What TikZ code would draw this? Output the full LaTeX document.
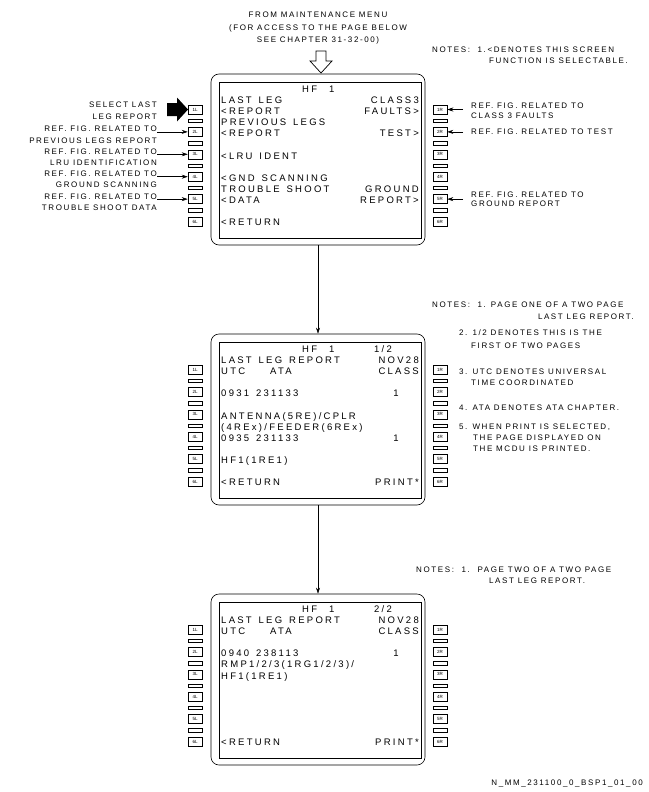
\documentclass[tikz,border=0pt]{standalone}
\usepackage{fontspec}
\setmainfont{Liberation Sans}
\newfontfamily\mcdufont[LetterSpace=24, WordSpace=1.4]{Liberation Sans}
\newfontfamily\notefont[LetterSpace=20]{Liberation Sans}
\usetikzlibrary{arrows.meta, positioning}
\tikzstyle{screen} = [draw, rounded corners=8pt, minimum width=214pt, minimum height=171pt, line width=0.6pt]
\tikzstyle{panel} = [draw, minimum width=202pt, minimum height=156pt, line width=0.5pt]
\tikzstyle{softkey} = [draw, minimum width=14pt, minimum height=9pt, inner sep=0pt, line width=0.5pt, font=\fontsize{4.5}{5}\selectfont]
\tikzstyle{keybar} = [draw, minimum width=14pt, minimum height=3.5pt, inner sep=0pt, line width=0.5pt]
\tikzstyle{lcd} = [inner sep=0pt, font=\mcdufont\fontsize{9.5}{11}\selectfont]
\tikzstyle{lft} = [lcd, anchor=base west]
\tikzstyle{rgt} = [lcd, anchor=base east]
\tikzstyle{midtext} = [lcd, anchor=base]
\tikzstyle{remark} = [inner sep=0pt, anchor=base west, font=\notefont\fontsize{8}{10}\selectfont]
\tikzstyle{remarkl} = [remark, anchor=base east]
\tikzstyle{arrow} = [->, >={Stealth[length=6pt,width=4pt]}, line width=0.5pt]

\begin{document}
\begin{tikzpicture}[x=1pt, y=-1pt]

\path [fill=white, use as bounding box] (0,0) rectangle (648,792);

% frames and keys of the three pages
\foreach \s in {1,2,3} {
  \begin{scope}[shift={(0,{260*(\s-1)})}]
    \node (s\s) [screen] at (318,159.5) {};
    \node (p\s) [panel] at (320,160) {};
    \foreach \n in {1,...,6} {
      \node (s\s L\n) [softkey] at (195,{109.5+22.4*(\n-1)}) {\n L};
      \node (s\s R\n) [softkey] at (440,{109.5+22.4*(\n-1)}) {\n R};
    }
    \foreach \n in {1,...,5} {
      \node (s\s bl\n) [keybar] at (195,{120.7+22.4*(\n-1)}) {};
      \node (s\s br\n) [keybar] at (440,{120.7+22.4*(\n-1)}) {};
    }
  \end{scope}
}

\node (menu) [align=center, inner sep=0pt, anchor=north, font=\notefont\fontsize{8}{12.5}\selectfont] at (318,12.1) {FROM MAINTENANCE MENU\\(FOR ACCESS TO THE PAGE BELOW\\SEE CHAPTER 31-32-00)};
\draw [line width=0.7pt] (316,51) -- (326,51) -- (326,61) -- (332,61) -- (321,73) -- (310,61) -- (316,61) -- cycle;

% page 1
\node (hf1) [lft] at (302,92.4) {HF\hspace{12pt}1};
\node (lastleg1) [lft] at (221,103.5) {LAST LEG};
\node (class1) [rgt] at (419,103.5) {CLASS3};
\node (report1) [lft] at (221,114.6) {<REPORT};
\node (faults1) [rgt] at (419,114.6) {FAULTS>};
\node (prevlegs1) [lft] at (221,125.7) {PREVIOUS LEGS};
\node (report2) [lft] at (221,136.8) {<REPORT};
\node (test1) [rgt] at (419,136.8) {TEST>};
\node (lru1) [lft] at (221,159.0) {<LRU IDENT};
\node (gnd1) [lft] at (221,181.2) {<GND SCANNING};
\node (trouble1) [lft] at (221,192.3) {TROUBLE SHOOT};
\node (ground1) [rgt] at (419,192.3) {GROUND};
\node (data1) [lft] at (221,203.4) {<DATA};
\node (gndrep1) [rgt] at (419,203.4) {REPORT>};
\node (return1) [lft] at (221,225.6) {<RETURN};

% page 2
\begin{scope}[shift={(0,260)}]
\node (hf2) [lft] at (302,92.4) {HF\hspace{12pt}1};
\node (pg2) [midtext] at (383,92.4) {1/2};
\node (title2) [lft] at (221,103.5) {LAST LEG REPORT};
\node (date2) [rgt] at (419,103.5) {NOV28};
\node (utc2) [lft] at (221,114.6) {UTC};
\node (ata2) [lft] at (270,114.6) {ATA};
\node (cls2) [rgt] at (419,114.6) {CLASS};
\node (fa2) [lft] at (221,136.8) {0931 231133};
\node (ca2) [midtext] at (396,136.8) {1};
\node (fb2) [lft] at (221,159.0) {ANTENNA(5RE)/CPLR};
\node (fc2) [lft] at (221,170.1) {(4REx)/FEEDER(6REx)};
\node (fd2) [lft] at (221,181.2) {0935 231133};
\node (cd2) [midtext] at (396,181.2) {1};
\node (fe2) [lft] at (221,203.4) {HF1(1RE1)};
\node (return2) [lft] at (221,225.6) {<RETURN};
\node (print2) [rgt] at (419,225.6) {PRINT*};
\end{scope}

% page 3
\begin{scope}[shift={(0,520)}]
\node (hf3) [lft] at (302,92.4) {HF\hspace{12pt}1};
\node (pg3) [midtext] at (383,92.4) {2/2};
\node (title3) [lft] at (221,103.5) {LAST LEG REPORT};
\node (date3) [rgt] at (419,103.5) {NOV28};
\node (utc3) [lft] at (221,114.6) {UTC};
\node (ata3) [lft] at (270,114.6) {ATA};
\node (cls3) [rgt] at (419,114.6) {CLASS};
\node (fa3) [lft] at (221,136.8) {0940 238113};
\node (ca3) [midtext] at (396,136.8) {1};
\node (fb3) [lft] at (221,147.9) {RMP1/2/3(1RG1/2/3)/};
\node (fc3) [lft] at (221,159.0) {HF1(1RE1)};
\node (return3) [lft] at (221,225.6) {<RETURN};
\node (print3) [rgt] at (419,225.6) {PRINT*};
\end{scope}

\draw [arrow] (s1) -- (s2);
\draw [arrow] (s2) -- (s3);

% call-outs on the left
\fill (167,103) -- (177,103) -- (177,97.5) -- (188,109.5) -- (177,121.5) -- (177,116) -- (167,116) -- cycle;
\node (sel1) [remarkl] at (157,107) {SELECT LAST};
\node (sel2) [remarkl] at (157,119) {LEG REPORT};
\node (ref2L) [remarkl] at (157,131.9) {REF. FIG. RELATED TO};
\node (prev) [remarkl] at (157,143.1) {PREVIOUS LEGS REPORT};
\node (ref3L) [remarkl] at (157,154.3) {REF. FIG. RELATED TO};
\node (lru) [remarkl] at (157,165.5) {LRU IDENTIFICATION};
\node (ref4L) [remarkl] at (157,176.7) {REF. FIG. RELATED TO};
\node (gnd) [remarkl] at (157,187.9) {GROUND SCANNING};
\node (ref5L) [remarkl] at (157,199.1) {REF. FIG. RELATED TO};
\node (trb) [remarkl] at (157,210.3) {TROUBLE SHOOT DATA};
\draw [arrow] (ref2L.east |- s1L2.west) -- (s1L2.west);
\draw [arrow] (ref3L.east |- s1L3.west) -- (s1L3.west);
\draw [arrow] (ref4L.east |- s1L4.west) -- (s1L4.west);
\draw [arrow] (ref5L.east |- s1L5.west) -- (s1L5.west);

% call-outs on the right
\node (ref1R) [remark] at (471,108.9) {REF. FIG. RELATED TO};
\node (cls1R) [remark] at (471,118.9) {CLASS 3 FAULTS};
\node (ref2R) [remark] at (471,134.6) {REF. FIG. RELATED TO TEST};
\node (ref5R) [remark] at (471,197.9) {REF. FIG. RELATED TO};
\node (gnd5R) [remark] at (471,206.9) {GROUND REPORT};
\draw [arrow, shorten <=8pt] (ref1R.west |- s1R1.east) -- (s1R1.east);
\draw [arrow, shorten <=8pt] (ref2R.west |- s1R2.east) -- (s1R2.east);
\draw [arrow, shorten <=8pt] (ref5R.west |- s1R5.east) -- (s1R5.east);

% notes
\node (n1a) [remark] at (432,52.9) {NOTES:\ \ 1.<DENOTES THIS SCREEN};
\node (n1b) [remark] at (489,63.9) {FUNCTION IS SELECTABLE.};
\node (n2a) [remark] at (432,307.9) {NOTES:\ \ 1. PAGE ONE OF A TWO PAGE};
\node (n2b) [remarkl] at (634,319.4) {LAST LEG REPORT.};
\node (n2c) [remark] at (459,335.9) {2. 1/2 DENOTES THIS IS THE};
\node (n2d) [remark] at (471,348.9) {FIRST OF TWO PAGES};
\node (n2e) [remark] at (459,374.9) {3. UTC DENOTES UNIVERSAL};
\node (n2f) [remark] at (471,385.9) {TIME COORDINATED};
\node (n2g) [remark] at (459,410.9) {4. ATA DENOTES ATA CHAPTER.};
\node (n2h) [remark] at (459,429.9) {5. WHEN PRINT IS SELECTED,};
\node (n2i) [remark] at (473,440.9) {THE PAGE DISPLAYED ON};
\node (n2j) [remark] at (473,451.9) {THE MCDU IS PRINTED.};
\node (n3a) [remark] at (416,572.9) {NOTES:\ \ 1.\ \ PAGE TWO OF A TWO PAGE};
\node (n3b) [remark] at (489,583.9) {LAST LEG REPORT.};

\node (ref) [remarkl] at (643,785.9) {N\_MM\_231100\_0\_BSP1\_01\_00};

\end{tikzpicture}
\end{document}
